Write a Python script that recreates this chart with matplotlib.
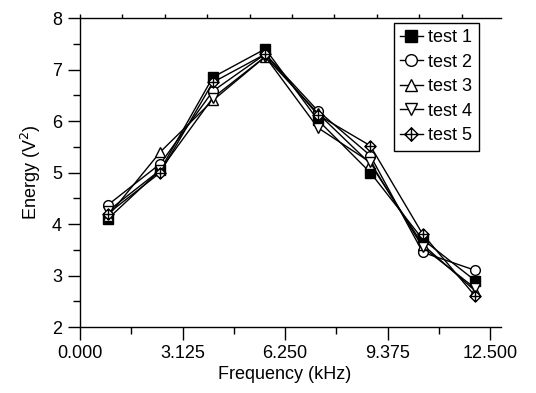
import matplotlib
matplotlib.use("Agg")
import matplotlib.pyplot as plt
from matplotlib.ticker import MultipleLocator, FixedLocator, NullFormatter
from matplotlib.path import Path

plt.rcParams['font.family'] = ['Liberation Sans', 'DejaVu Sans']

freq = [0.85, 2.45, 4.05, 5.65, 7.25, 8.85, 10.45, 12.05]
test1 = [4.10, 5.05, 6.85, 7.40, 6.02, 5.00, 3.70, 2.90]
test2 = [4.37, 5.17, 6.58, 7.30, 6.20, 5.33, 3.45, 3.10]
test3 = [4.15, 5.40, 6.40, 7.25, 6.15, 5.17, 3.60, 2.70]
test4 = [4.25, 5.05, 6.45, 7.25, 5.87, 5.20, 3.55, 2.75]
test5 = [4.20, 5.00, 6.75, 7.30, 6.12, 5.52, 3.80, 2.60]
labels = ['test 1', 'test 2', 'test 3', 'test 4', 'test 5']
xticks = [0.0, 3.125, 6.25, 9.375, 12.5]
xticklabels = ['0.000', '3.125', '6.250', '9.375', '12.500']

# diamond with a cross inside
dp_marker = Path(
    [(0, 1), (1, 0), (0, -1), (-1, 0), (0, 1),
     (0, 1), (0, -1), (-1, 0), (1, 0)],
    [Path.MOVETO, Path.LINETO, Path.LINETO, Path.LINETO, Path.CLOSEPOLY,
     Path.MOVETO, Path.LINETO, Path.MOVETO, Path.LINETO])

FS = 13
fig = plt.figure(figsize=(5.36, 3.93), dpi=100)
ax = fig.add_axes([80/536, 66/393, 410/536, 309/393])

ms = 7
common = dict(color='black', lw=1.0, markersize=ms, markeredgewidth=1.0)
h1, = ax.plot(freq, test1, marker='s', mfc='black', label=labels[0], **common)
h2, = ax.plot(freq, test2, marker='o', mfc='white', label=labels[1], **common)
h3, = ax.plot(freq, test3, marker='^', mfc='white', label=labels[2], **common)
h4, = ax.plot(freq, test4, marker='v', mfc='white', label=labels[3], **common)
h5, = ax.plot(freq, test5, marker=dp_marker, mfc='white', label=labels[4],
              color='black', lw=1.0, markersize=ms + 1, markeredgewidth=1.0)

ax.set_xlim(0, 12.5)
ax.set_ylim(2, 8)
ax.xaxis.set_major_locator(FixedLocator(xticks))
ax.set_xticklabels(xticklabels)
ax.xaxis.set_minor_locator(MultipleLocator(1.5625))
ax.yaxis.set_major_locator(MultipleLocator(1))
ax.yaxis.set_minor_locator(MultipleLocator(0.5))

ax.tick_params(which='major', direction='out', length=9, width=1.0, labelsize=FS,
               top=False, right=False, pad=4)
ax.tick_params(which='minor', direction='out', length=5, width=1.0,
               top=False, right=False)

ax.spines['right'].set_visible(False)
for s in ['left', 'bottom', 'top']:
    ax.spines[s].set_linewidth(1.0)
ax.spines['bottom'].set_bounds(0, 12.83)
ax.spines['top'].set_bounds(0, 12.83)

# small outward ticks along the top frame line
sec = ax.secondary_xaxis('top')
sec.xaxis.set_major_locator(MultipleLocator(1.293))
sec.xaxis.set_major_formatter(NullFormatter())
sec.tick_params(direction='out', length=3, width=1.0)
sec.spines['top'].set_visible(False)

ax.set_xlabel('Frequency (kHz)', fontsize=FS, labelpad=3)
ax.set_ylabel('Energy (V$^2$)', fontsize=FS, labelpad=6)

leg = ax.legend(handles=[h1, h2, h3, h4, h5],
                loc='upper right', bbox_to_anchor=(0.972, 0.985),
                fontsize=FS, frameon=True, fancybox=False, framealpha=1,
                edgecolor='black', handlelength=1.25, handletextpad=0.3,
                labelspacing=0.42, borderpad=0.35, borderaxespad=0.0,
                markerscale=1.2)
leg.get_frame().set_linewidth(1.0)

fig.savefig('out.png', dpi=100)
